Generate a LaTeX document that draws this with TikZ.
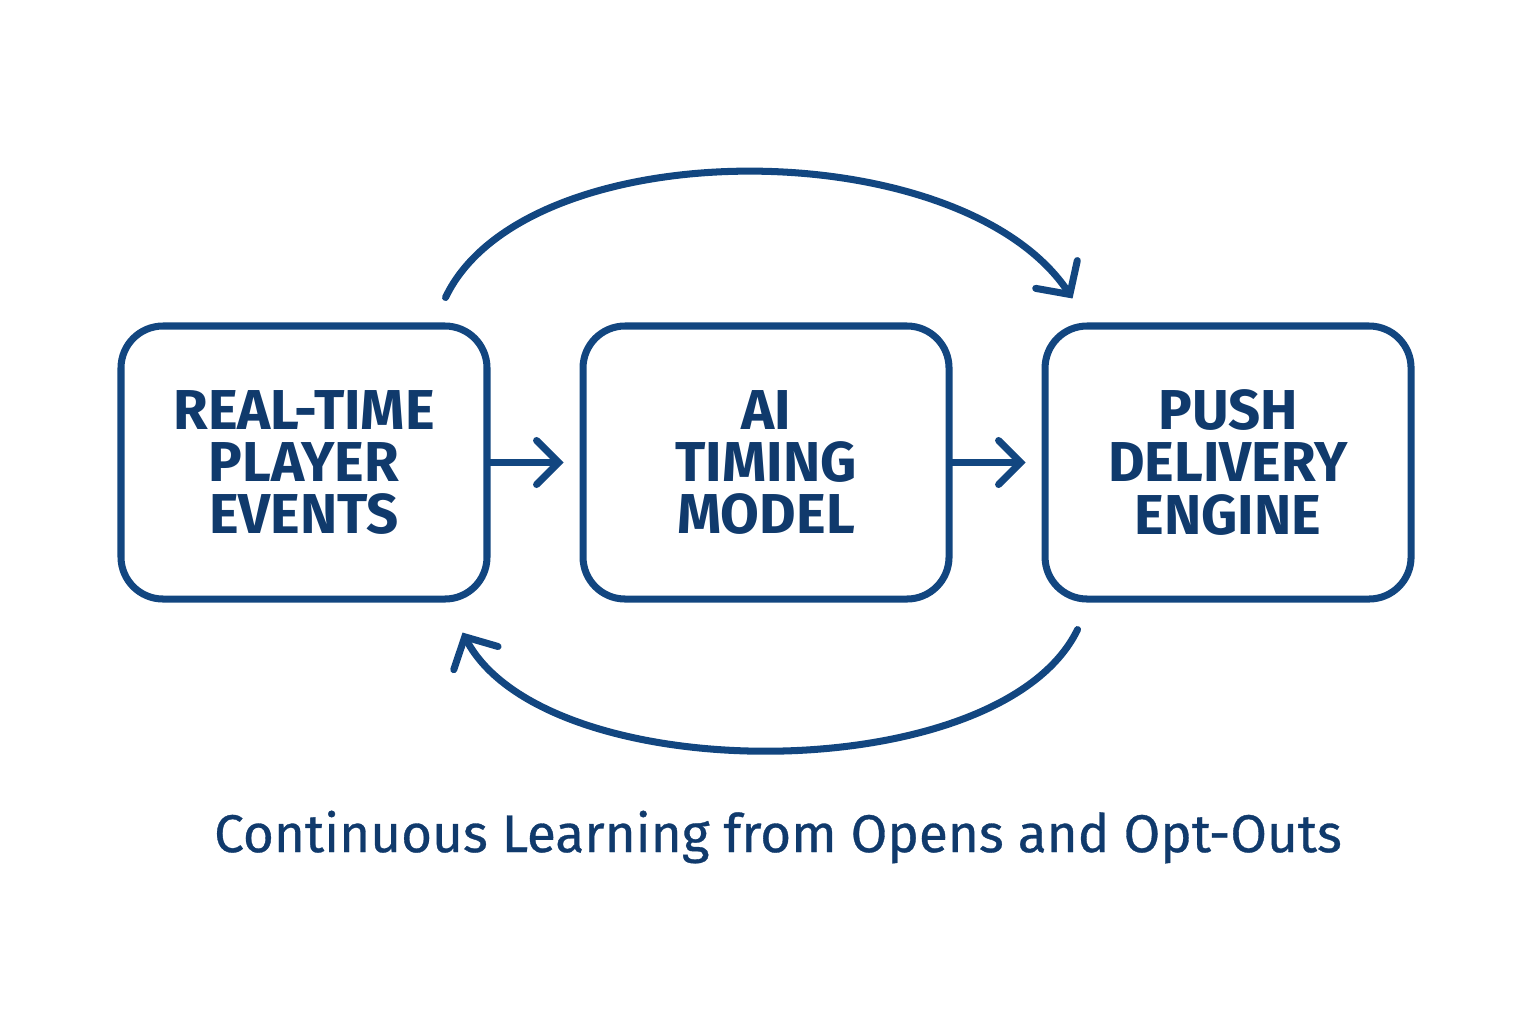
\documentclass[tikz,border=0pt]{standalone}
\usepackage{fontspec}
\setmainfont{Fira Sans}
\definecolor{NavyLine}{RGB}{18,70,128}
\definecolor{NavyText}{RGB}{16,58,108}
\usetikzlibrary{arrows.meta,positioning}

\begin{document}
\begin{tikzpicture}[
    node distance=0.89cm,
    stage/.style={draw=NavyLine, line width=2pt, rounded corners=0.42cm,
                  minimum width=3.66cm, minimum height=2.73cm, align=center,
                  text=NavyText, font=\fontsize{16}{14.8}\selectfont\bfseries,
                  execute at begin node={\rule{0pt}{14.6pt}}},
    flow/.style={-{Straight Barb[length=2.2mm, width=4.4mm, line cap=round]},
                 line width=2pt, NavyLine, line cap=round},
    loop/.style={-{Straight Barb[length=2.4mm, width=5mm, line cap=round]},
                 line width=2pt, NavyLine, line cap=round}
  ]
    \useasboundingbox (0,0) rectangle (15.36,-10.24);

    % Pipeline row
    \node[stage] (events) at (3.04,-4.625) {REAL-TIME\\PLAYER\\EVENTS};
    \node[stage, right=of events] (model) {AI\\TIMING\\MODEL};
    \node[stage, right=of model] (push) {PUSH\\DELIVERY\\ENGINE};

    \draw[flow] (events.east) -- ([xshift=-1.6mm]model.west);
    \draw[flow] (model.east) -- ([xshift=-1.6mm]push.west);

    % Feedback loop
    \coordinate (topstart) at ([shift={(-0.45,0.25)}]events.north east);
    \coordinate (topend)   at ([shift={(0.31,0.24)}]push.north west);
    \coordinate (botstart) at ([shift={(0.36,-0.27)}]push.south west);
    \coordinate (botend)   at ([shift={(-0.28,-0.30)}]events.south east);

    \draw[loop] (topstart) .. controls (5.25,-1.30) and (9.6,-1.30) .. (topend);
    \draw[loop] (botstart) .. controls (10.0,-7.90) and (5.45,-7.90) .. (botend);

    % Caption
    \node[text=NavyText, font=\fontsize{15.1}{18}\selectfont\addfontfeature{FakeBold=0.6}]
      (caption) at (7.78,-8.37) {Continuous Learning from Opens and Opt-Outs};
\end{tikzpicture}
\end{document}
